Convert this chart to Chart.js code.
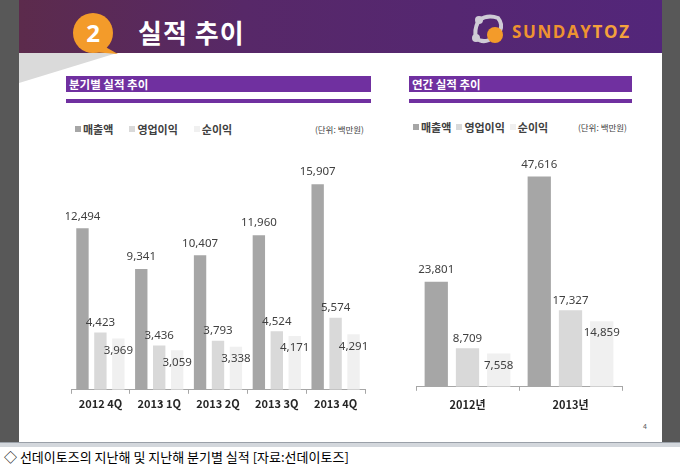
<!DOCTYPE html>
<html>
<head>
<meta charset="utf-8">
<script src="https://cdn.jsdelivr.net/npm/chart.js@4.4.1/dist/chart.umd.min.js"></script>
<style>
  html, body { margin: 0; padding: 0; }
  body { width: 680px; height: 469px; position: relative; overflow: hidden; background: #ffffff;
         font-family: "Noto Sans CJK KR", "Noto Sans", sans-serif; }
  .frame { position: absolute; left: 0; top: 0; width: 680px; height: 442px; background: #585858; }
  .slide { position: absolute; left: 19px; top: 0; width: 643px; height: 442px; background: #ffffff; }
  .header { position: absolute; left: 19px; top: 0; width: 643px; height: 53px;
            background: linear-gradient(to right, #5c2b4c 0%, #572868 35%, #53267a 100%); }
  .title { position: absolute; left: 138px; top: 15px; font-size: 26px; font-weight: bold; color: #ffffff; line-height: 34px; letter-spacing: 1px; }
  .logo { position: absolute; left: 512px; top: 20px; font-family: "Open Sans", sans-serif; font-weight: bold;
          font-size: 17px; line-height: 24px; letter-spacing: 1.6px; color: #ee9330; }
  .logo span { color: #f4a23c; }
  .secbar { position: absolute; height: 16px; top: 76px; background: #7030a0; color: #fff; font-size: 11.5px; font-weight: bold;
            line-height: 16px; padding-left: 3px; box-sizing: border-box; }
  .secline { position: absolute; height: 4px; top: 99px; background: #7030a0; }
  .legend { position: absolute; display: flex; align-items: center; font-size: 11px; font-weight: bold; color: #404040; height: 14px; }
  .legend .item { display: flex; align-items: center; }
  .legend .box { width: 6px; height: 6px; margin-right: 2px; }
  .unit { position: absolute; font-size: 8.5px; color: #404040; text-align: right; line-height: 12px; }
  .chartbox { position: absolute; }
  .pageno { position: absolute; left: 643px; top: 421px; font-size: 7px; color: #595959; }
  .tabs { position: absolute; left: 0; top: 442px; width: 680px; height: 5px; background: #d3d7dc; border-top: 1px solid #9aa0a8; box-sizing: border-box; }
  .caption { position: absolute; left: 4px; top: 447px; font-size: 13px; line-height: 19px; color: #000; }
</style>
</head>
<body>
<div class="frame"></div>
<div class="slide"></div>
<div class="header"></div>
<svg style="position:absolute;left:0;top:0" width="680" height="100">
  <polygon points="19,53 117,53 19,83" fill="#dadada"/>
  <path d="M100,44 L118,54 L92,52 Z" fill="#f39b2a"/>
  <circle cx="93" cy="33" r="20" fill="#f39b2a"/>
  <text x="93" y="42" text-anchor="middle" font-family="Open Sans, sans-serif" font-weight="bold" font-size="24" fill="#ffffff">2</text>
  <path d="M479,20 Q488,14 498,18 Q503,24 500,31 M478,22 Q474,30 476,38 Q482,43 489,40" fill="none" stroke="#cfcbd6" stroke-width="4" stroke-linecap="round"/>
  <circle cx="479" cy="20" r="4" fill="#cfcbd6"/>
  <circle cx="476" cy="38" r="4" fill="#cfcbd6"/>
  <circle cx="495" cy="35" r="8" fill="#f39b2a"/>
</svg>
<div class="title">실적 추이</div>
<div class="logo">SUNDAY<span>TOZ</span></div>

<div class="secbar" style="left:66px;width:305px;">분기별 실적 추이</div>
<div class="secline" style="left:66px;width:305px;"></div>
<div class="secbar" style="left:409px;width:223px;">연간 실적 추이</div>
<div class="secline" style="left:409px;width:223px;"></div>

<div class="legend" id="quarterLegend" style="left:75px;top:122px;"></div>
<div class="unit" style="left:290px;top:123px;width:74px;">(단위: 백만원)</div>
<div class="legend" id="yearLegend" style="left:413px;top:120px;"></div>
<div class="unit" style="left:553px;top:121px;width:74px;">(단위: 백만원)</div>

<div class="chartbox" style="left:66px;top:150px;width:304px;height:263px;"><canvas id="quarterChart"></canvas></div>
<div class="chartbox" style="left:411px;top:150px;width:216px;height:268px;"><canvas id="yearChart"></canvas></div>

<div class="pageno">4</div>
<div class="tabs"></div>
<div class="caption">◇ 선데이토즈의 지난해 및 지난해 분기별 실적 [자료:선데이토즈]</div>

<script>
// 단위: 백만원
const seriesNames = ['매출액', '영업이익', '순이익'];
const seriesColors = ['#a6a6a6', '#d9d9d9', '#f0f0f0'];

const quarters = ['2012 4Q', '2013 1Q', '2013 2Q', '2013 3Q', '2013 4Q'];
const quarterSales = [12494, 9341, 10407, 11960, 15907];
const quarterOpProfit = [4423, 3436, 3793, 4524, 5574];
const quarterNetProfit = [3969, 3059, 3338, 4171, 4291];

const years = ['2012년', '2013년'];
const yearSales = [23801, 47616];
const yearOpProfit = [8709, 17327];
const yearNetProfit = [7558, 14859];

// labels above the first two series, tucked into the top of the third
const labelOffsets = [-12, -10, 12];

const valueLabels = {
  id: 'valueLabels',
  afterDatasetsDraw(chart) {
    const ctx = chart.ctx;
    ctx.save();
    ctx.font = '11.5px "Noto Sans", sans-serif';
    ctx.fillStyle = '#404040';
    ctx.textAlign = 'center';
    ctx.textBaseline = 'middle';
    chart.data.datasets.forEach((dataset, i) => {
      chart.getDatasetMeta(i).data.forEach((bar, j) => {
        ctx.fillText(dataset.data[j].toLocaleString('en-US'), bar.x, bar.y + labelOffsets[i]);
      });
    });
    ctx.restore();
  }
};

function makeDatasets(values, barPct, catPct)
{
  return values.map((data, i) => ({
    label: seriesNames[i],
    data: data,
    backgroundColor: seriesColors[i],
    borderWidth: 0,
    barPercentage: barPct,
    categoryPercentage: catPct
  }));
}

function makeOptions(yMax, tickPad)
{
  return {
    responsive: true,
    maintainAspectRatio: false,
    animation: false,
    layout: { padding: { left: 5, right: 5, top: 0, bottom: 0 } },
    plugins: { legend: { display: false }, tooltip: { enabled: false } },
    scales: {
      x: {
        grid: { display: true, drawOnChartArea: false, drawTicks: true, tickLength: 4, color: '#a6a6a6' },
        border: { display: true, color: '#a6a6a6' },
        ticks: { color: '#262626', padding: tickPad, font: { family: '"Noto Sans CJK KR", sans-serif', size: 11, weight: 'bold' } }
      },
      y: { display: false, min: 0, max: yMax, beginAtZero: true }
    }
  };
}

function buildLegend(chart, id, gap)
{
  const box = document.getElementById(id);
  chart.options.plugins.legend.labels.generateLabels(chart).forEach((item, i) => {
    const el = document.createElement('div');
    el.className = 'item';
    el.style.marginRight = gap + 'px';
    const sq = document.createElement('span');
    sq.className = 'box';
    sq.style.background = item.fillStyle;
    el.appendChild(sq);
    el.appendChild(document.createTextNode(item.text));
    box.appendChild(el);
  });
}

window.onload = function load_charts()
{
  const ctx1 = document.getElementById('quarterChart');
  quarterChart = new Chart(ctx1, {
    type: 'bar',
    data: {
      labels: quarters,
      datasets: makeDatasets([quarterSales, quarterOpProfit, quarterNetProfit], 0.69, 0.915)
    },
    options: makeOptions(18550, 3),
    plugins: [valueLabels]
  });
  buildLegend(quarterChart, 'quarterLegend', 16);

  const ctx2 = document.getElementById('yearChart');
  yearChart = new Chart(ctx2, {
    type: 'bar',
    data: {
      labels: years,
      datasets: makeDatasets([yearSales, yearOpProfit, yearNetProfit], 0.745, 0.91)
    },
    options: makeOptions(53620, 7),
    plugins: [valueLabels]
  });
  buildLegend(yearChart, 'yearLegend', 5);
}
</script>
</body>
</html>
